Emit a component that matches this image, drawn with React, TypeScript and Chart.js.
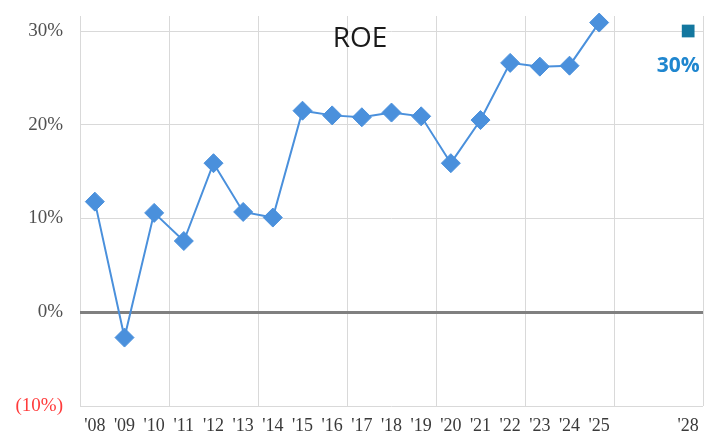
import React, { useEffect, useRef } from "react";
import { Chart, registerables } from "chart.js";

Chart.register(...registerables);

const years = ["'08", "'09", "'10", "'11", "'12", "'13", "'14", "'15", "'16", "'17", "'18", "'19", "'20", "'21", "'22", "'23", "'24", "'25", "", "", "'28"];
const roe: (number | null)[] = [11.8, -2.7, 10.6, 7.6, 15.9, 10.7, 10.1, 21.5, 21.0, 20.8, 21.3, 20.9, 15.9, 20.5, 26.6, 26.2, 26.3, 30.9, null, null, null];
const target: (number | null)[] = [null, null, null, null, null, null, null, null, null, null, null, null, null, null, null, null, null, null, null, null, 30];
const yTicks = [-10, 0, 10, 20, 30];
const titleText = "ROE";
const targetLabel = "30%";

const overlay = {
  id: "overlay",
  afterDatasetsDraw(chart: any) {
    const ctx = chart.ctx;
    ctx.save();
    ctx.font = '28px "Open Sans"';
    ctx.fillStyle = "#1a1a1a";
    ctx.textAlign = "center";
    ctx.textBaseline = "alphabetic";
    ctx.fillText(titleText, 360, 47);
    const meta = chart.getDatasetMeta(1);
    const pt = meta.data[meta.data.length - 1];
    if (pt) {
      ctx.font = 'bold 21px "Open Sans"';
      ctx.fillStyle = "#1f86cf";
      ctx.fillText(targetLabel, pt.x - 10, pt.y + 41);
    }
    ctx.restore();
  },
};

export default function App() {
  const ref = useRef<HTMLCanvasElement>(null);
  useEffect(() => {
    if (!ref.current) return;
    const chart = new Chart(ref.current, {
      type: "line",
      data: {
        labels: years,
        datasets: [
          {
            data: roe,
            borderColor: "#4a90dc",
            backgroundColor: "#4a90dc",
            borderWidth: 2,
            pointStyle: "rectRot",
            pointRadius: 9.5,
            pointBorderWidth: 1,
            spanGaps: false,
            clip: false,
          },
          {
            data: target,
            showLine: false,
            borderColor: "#13779f",
            backgroundColor: "#13779f",
            pointStyle: "rect",
            pointRadius: 9,
            pointBorderWidth: 0,
            clip: false,
          },
        ],
      },
      options: {
        responsive: false,
        animation: false,
        layout: { autoPadding: false, padding: { top: 16, right: 3, left: 0, bottom: 0 } },
        plugins: { legend: { display: false }, tooltip: { enabled: false }, title: { display: false } },
        scales: {
          x: {
            offset: true,
            grid: {
              offset: true,
              drawTicks: false,
              color: (c: any) => (c.index === undefined || c.index % 3 === 0 ? "#d9d9d9" : "rgba(0,0,0,0)"),
              lineWidth: 1,
            },
            border: { display: false },
            ticks: {
              autoSkip: false,
              maxRotation: 0,
              padding: 9,
              color: "#3a3a3a",
              font: { family: '"Liberation Serif"', size: 18 },
            },
            afterFit: (s: any) => {
              s.height = 29;
              s.paddingLeft = 0;
              s.paddingRight = 0;
            },
          },
          y: {
            min: -10,
            max: 31.6,
            afterBuildTicks: (s: any) => {
              s.ticks = yTicks.map((v) => ({ value: v }));
            },
            grid: {
              drawTicks: false,
              color: (c: any) => (c.tick && c.tick.value === 0 ? "#808080" : "#d9d9d9"),
              lineWidth: (c: any) => (c.tick && c.tick.value === 0 ? 3 : 1),
            },
            border: { display: false },
            ticks: {
              padding: 17,
              color: (c: any) => (c.tick && c.tick.value < 0 ? "#ff3b3b" : "#505050"),
              font: { family: '"Liberation Serif"', size: 19 },
              callback: (v: any) => (v < 0 ? `(${-v}%)` : `${v}%`),
            },
            afterFit: (s: any) => {
              s.width = 80;
              s.paddingTop = 0;
              s.paddingBottom = 0;
            },
          },
        },
      },
      plugins: [overlay],
    });
    return () => chart.destroy();
  }, []);
  return (
    <div style={{ position: "fixed", left: 0, top: 0, width: 706, height: 435, background: "#fff" }}>
      <canvas ref={ref} width={706} height={435} style={{ display: "block" }} />
    </div>
  );
}
